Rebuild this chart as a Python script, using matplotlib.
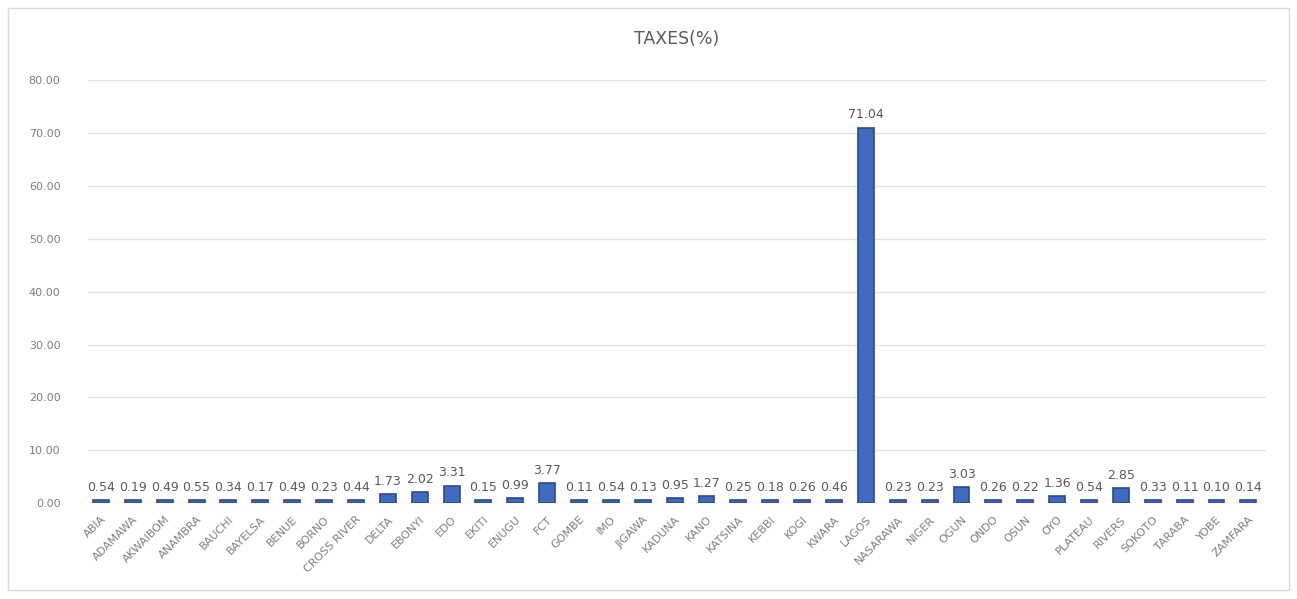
import numpy as np
import matplotlib.pyplot as plt
from matplotlib.patches import Rectangle

# States and their share of taxes (%)
states = ['ABIA', 'ADAMAWA', 'AKWAIBOM', 'ANAMBRA', 'BAUCHI', 'BAYELSA', 'BENUE',
          'BORNO', 'CROSS RIVER', 'DELTA', 'EBONYI', 'EDO', 'EKITI', 'ENUGU', 'FCT',
          'GOMBE', 'IMO', 'JIGAWA', 'KADUNA', 'KANO', 'KATSINA', 'KEBBI', 'KOGI',
          'KWARA', 'LAGOS', 'NASARAWA', 'NIGER', 'OGUN', 'ONDO', 'OSUN', 'OYO',
          'PLATEAU', 'RIVERS', 'SOKOTO', 'TARABA', 'YOBE', 'ZAMFARA']
taxes = [0.54, 0.19, 0.49, 0.55, 0.34, 0.17, 0.49, 0.23, 0.44, 1.73, 2.02, 3.31,
         0.15, 0.99, 3.77, 0.11, 0.54, 0.13, 0.95, 1.27, 0.25, 0.18, 0.26, 0.46,
         71.04, 0.23, 0.23, 3.03, 0.26, 0.22, 1.36, 0.54, 2.85, 0.33, 0.11, 0.10, 0.14]
y_ticks = [0, 10, 20, 30, 40, 50, 60, 70, 80]

fig = plt.figure(figsize=(12.97, 5.99), dpi=100)

# light border around the whole chart
fig.patches.append(Rectangle((0.006, 0.015), 0.988, 0.972, transform=fig.transFigure,
                             fill=False, edgecolor='#d9d9d9', linewidth=1))

ax = fig.add_axes([0.068, 0.160, 0.908, 0.706])
x = np.arange(len(states))

# small minimum height so the tiny bars still show like the 3D floor
heights = [max(v, 0.6) for v in taxes]
ax.bar(x, heights, width=0.5, color='#3F6BC0', edgecolor='#2A4B8C', linewidth=1.2, zorder=3)

for xi, v in zip(x, taxes):
    ax.text(xi, max(v, 0.6) + 1.2, f'{v:.2f}', ha='center', va='bottom',
            fontsize=9, color='#595959')

ax.set_xlim(-0.4, len(states) - 0.45)
ax.set_ylim(0, 80)
ax.set_yticks(y_ticks)
ax.set_yticklabels([f'{t:.2f}' for t in y_ticks], fontsize=8, color='#7f7f7f')
ax.set_xticks(x)
ax.set_xticklabels(states, rotation=45, ha='right', rotation_mode='anchor',
                   fontsize=8, color='#7f7f7f')
ax.tick_params(axis='both', length=0, pad=20)
ax.tick_params(axis='x', pad=8)

ax.yaxis.grid(True, color='#e3e3e3', linewidth=1)
ax.set_axisbelow(True)
for s in ax.spines.values():
    s.set_visible(False)

fig.text(0.522, 0.935, 'TAXES(%)', ha='center', va='center', fontsize=12.5, color='#595959')

plt.savefig('out.png', dpi=100)
